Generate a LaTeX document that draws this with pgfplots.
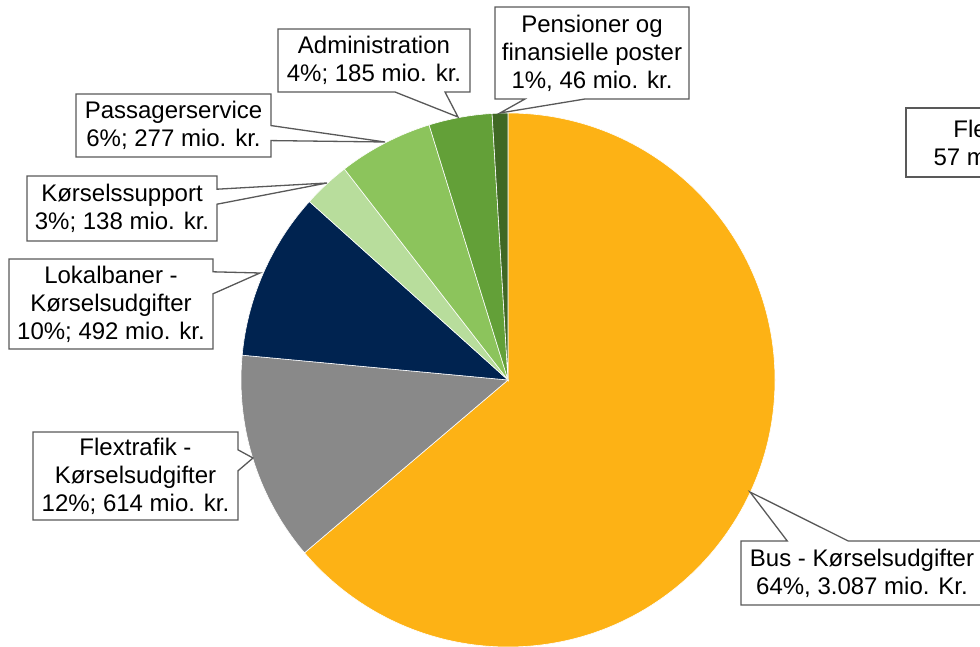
\documentclass[border=0pt]{standalone}
\usepackage{pgfplots}
\pgfplotsset{compat=1.18}
\usepackage{pgfplotstable}
\usepackage{fontspec}
\setmainfont{Liberation Sans}
\usetikzlibrary{shapes.callouts}

\definecolor{cBus}{RGB}{253,178,21}
\definecolor{cFlex}{RGB}{137,137,137}
\definecolor{cLokal}{RGB}{0,35,80}
\definecolor{cSupport}{RGB}{184,221,156}
\definecolor{cPassager}{RGB}{140,196,92}
\definecolor{cAdmin}{RGB}{99,160,56}
\definecolor{cPension}{RGB}{64,104,36}
\definecolor{boxline}{RGB}{89,89,89}

% mio. kr., clockwise from 12 o'clock
\pgfplotstableread{
item      value colour
Bus       3087  cBus
Flex      614   cFlex
Lokal     492   cLokal
Support   138   cSupport
Passager  277   cPassager
Admin     185   cAdmin
Pension   46    cPension
}\piedata

\begin{document}
\begin{tikzpicture}[
  lbl/.style={rectangle callout, draw=boxline, line width=1.3pt, fill=white,
    align=center, inner sep=0pt, font=\fontsize{24}{28}\selectfont, text=black},
]
\begin{axis}[
  x=1pt, y=1pt, xmin=0, xmax=980, ymin=0, ymax=647,
  scale only axis, hide axis, clip=true,
]
% pie slices from the table
\pgfplotstablegetrowsof{\piedata}
\pgfmathtruncatemacro\lastrow{\pgfplotsretval-1}
\def\total{0}
\pgfplotsforeachungrouped \i in {0,...,\lastrow}{%
  \pgfplotstablegetelem{\i}{value}\of\piedata
  \pgfmathsetmacro\total{\total+\pgfplotsretval}%
}
\def\cum{0}
\pgfplotsforeachungrouped \i in {0,...,\lastrow}{%
  \pgfplotstablegetelem{\i}{value}\of\piedata
  \let\val\pgfplotsretval
  \pgfplotstablegetelem{\i}{colour}\of\piedata
  \let\col\pgfplotsretval
  \pgfmathsetmacro\angA{90-\cum/\total*360}%
  \pgfmathsetmacro\angB{90-(\cum+\val)/\total*360}%
  \edef\slice{\noexpand\fill[\col, draw=white, line width=0.6pt]
    (axis cs:508,267) -- ++(\angA:267pt) arc[start angle=\angA, end angle=\angB, radius=267pt] -- cycle;}%
  \slice
  \pgfmathsetmacro\cum{\cum+\val}%
}

% callout labels
\node[lbl, minimum width=192pt, minimum height=63pt,
  callout absolute pointer={(axis cs:458,530)}, callout pointer width=50pt]
  at (axis cs:374,586.5) {Administration\\4\%; 185 mio. kr.};
\node[lbl, minimum width=194pt, minimum height=92pt,
  callout absolute pointer={(axis cs:500,534)}, callout pointer width=60pt]
  at (axis cs:592,594) {Pensioner og\\finansielle poster\\1\%, 46 mio. kr.};
\node[lbl, minimum width=195pt, minimum height=63pt,
  callout absolute pointer={(axis cs:385,505)}, callout pointer width=15pt]
  at (axis cs:173.5,521.5) {Passagerservice\\6\%; 277 mio. kr.};
\node[lbl, minimum width=190pt, minimum height=65pt,
  callout absolute pointer={(axis cs:327,464)}, callout pointer width=15pt]
  at (axis cs:122,438.5) {Kørselssupport\\3\%; 138 mio. kr.};
\node[lbl, minimum width=204pt, minimum height=90pt,
  callout absolute pointer={(axis cs:260,374)}, callout pointer width=22pt]
  at (axis cs:111,343) {Lokalbaner -\\Kørselsudgifter\\10\%; 492 mio. kr.};
\node[lbl, minimum width=205pt, minimum height=88pt,
  callout absolute pointer={(axis cs:253,189)}, callout pointer width=21pt]
  at (axis cs:135.5,171) {Flextrafik -\\Kørselsudgifter\\12\%; 614 mio. kr.};
\node[lbl, minimum width=242pt, minimum height=64pt,
  callout absolute pointer={(axis cs:750,155)}, callout pointer width=61pt]
  at (axis cs:862,74) {Bus - Kørselsudgifter\\64\%, 3.087 mio. Kr.};
% label of a further item, cut by the right edge as in the original
\node[draw=boxline, line width=1.3pt, fill=white, align=center, inner sep=0pt,
  font=\fontsize{24}{28}\selectfont, minimum width=168pt, minimum height=69pt]
  at (axis cs:990,504.5) {Flextur\\57 mio. kr.};
\end{axis}
\pgfresetboundingbox
\useasboundingbox (current axis.south west) rectangle (current axis.north east);
\end{tikzpicture}
\end{document}
